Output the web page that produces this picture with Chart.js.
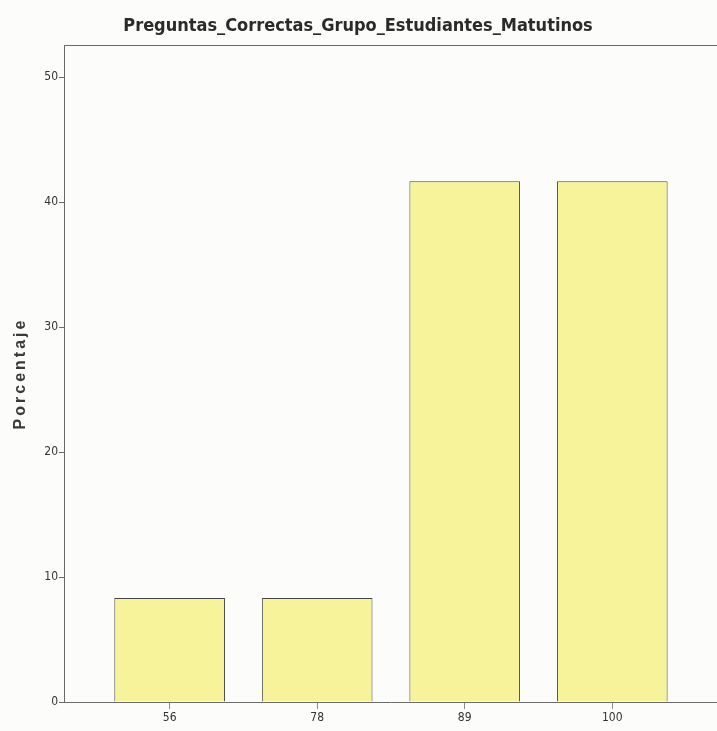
<!DOCTYPE html>
<html>
<head>
<meta charset="utf-8">
<script src="https://cdn.jsdelivr.net/npm/chart.js@4"></script>
<style>
  html, body { margin: 0; padding: 0; background: #fcfcfa; }
  #wrap { width: 717px; height: 731px; }
</style>
</head>
<body>
<div id="wrap"><canvas id="dataChart" width="717" height="731"></canvas></div>
<script>
// chart data
const chartTitle = 'Preguntas_Correctas_Grupo_Estudiantes_Matutinos';
const yTitle = 'Porcentaje';
const categories = ['56', '78', '89', '100'];
const porcentajes = [8.33, 8.33, 41.67, 41.67];
const yTicks = [0, 10, 20, 30, 40, 50];

const narrow = "'Liberation Sans Narrow', 'DejaVu Sans Condensed', 'Arial Narrow', sans-serif";

// draws the frame top line and the spaced-out y title
const framePlugin = {
  id: 'frame',
  afterDraw(chart) {
    const ctx = chart.ctx;
    const a = chart.chartArea;
    ctx.save();
    ctx.strokeStyle = '#6a6a6a';
    ctx.lineWidth = 1;
    ctx.beginPath();
    ctx.moveTo(a.left, a.top + 0.5);
    ctx.lineTo(a.right + 2, a.top + 0.5);
    ctx.stroke();

    ctx.translate(21, (a.top + a.bottom) / 2);
    ctx.rotate(-Math.PI / 2);
    ctx.font = "bold 16px 'Liberation Sans', Arial, sans-serif";
    ctx.letterSpacing = '3px';
    ctx.fillStyle = '#3a3a3a';
    ctx.textAlign = 'center';
    ctx.textBaseline = 'middle';
    ctx.fillText(yTitle, 0, 0);
    ctx.restore();
  }
};

const ctx = document.getElementById('dataChart').getContext('2d');
const chart = new Chart(ctx, {
  type: 'bar',
  data: {
    datasets: [{
      label: yTitle,
      data: categories.map((c, i) => ({ x: i, y: porcentajes[i] })),
      backgroundColor: '#f7f39a',
      borderColor: '#454545',
      borderWidth: 1,
      barPercentage: 0.75,
      categoryPercentage: 1.0
    }]
  },
  options: {
    responsive: false,
    animation: false,
    layout: { padding: { left: 0, right: 1, top: 0, bottom: 0 } },
    plugins: {
      legend: { display: false },
      tooltip: { enabled: false },
      title: {
        display: true,
        text: chartTitle,
        color: '#2a2a2a',
        font: { family: narrow, size: 18, weight: 'bold', lineHeight: 1.2 },
        padding: { top: 16, bottom: 7.4 }
      }
    },
    scales: {
      x: {
        type: 'linear',
        offset: false,
        min: -0.716,
        max: 3.703,
        afterBuildTicks: scale => { scale.ticks = categories.map((c, i) => ({ value: i })); },
        afterFit: scale => { scale.height = 29; },
        ticks: {
          autoSkip: false,
          maxRotation: 0,
          padding: 2,
          color: '#333',
          font: { family: narrow, size: 12 },
          callback: v => categories[v]
        },
        grid: { offset: false, drawOnChartArea: false, drawTicks: true, tickLength: 7, color: '#8a8a8a' },
        border: { color: '#6a6a6a' }
      },
      y: {
        min: 0,
        max: 52.56,
        afterBuildTicks: scale => { scale.ticks = yTicks.map(v => ({ value: v })); },
        afterFit: scale => { scale.width = 64; },
        ticks: {
          padding: 1,
          color: '#333',
          font: { family: narrow, size: 12 }
        },
        grid: { drawOnChartArea: false, drawTicks: true, tickLength: 5, color: '#6a6a6a' },
        border: { color: '#6a6a6a' }
      }
    }
  },
  plugins: [framePlugin]
});
</script>
</body>
</html>
